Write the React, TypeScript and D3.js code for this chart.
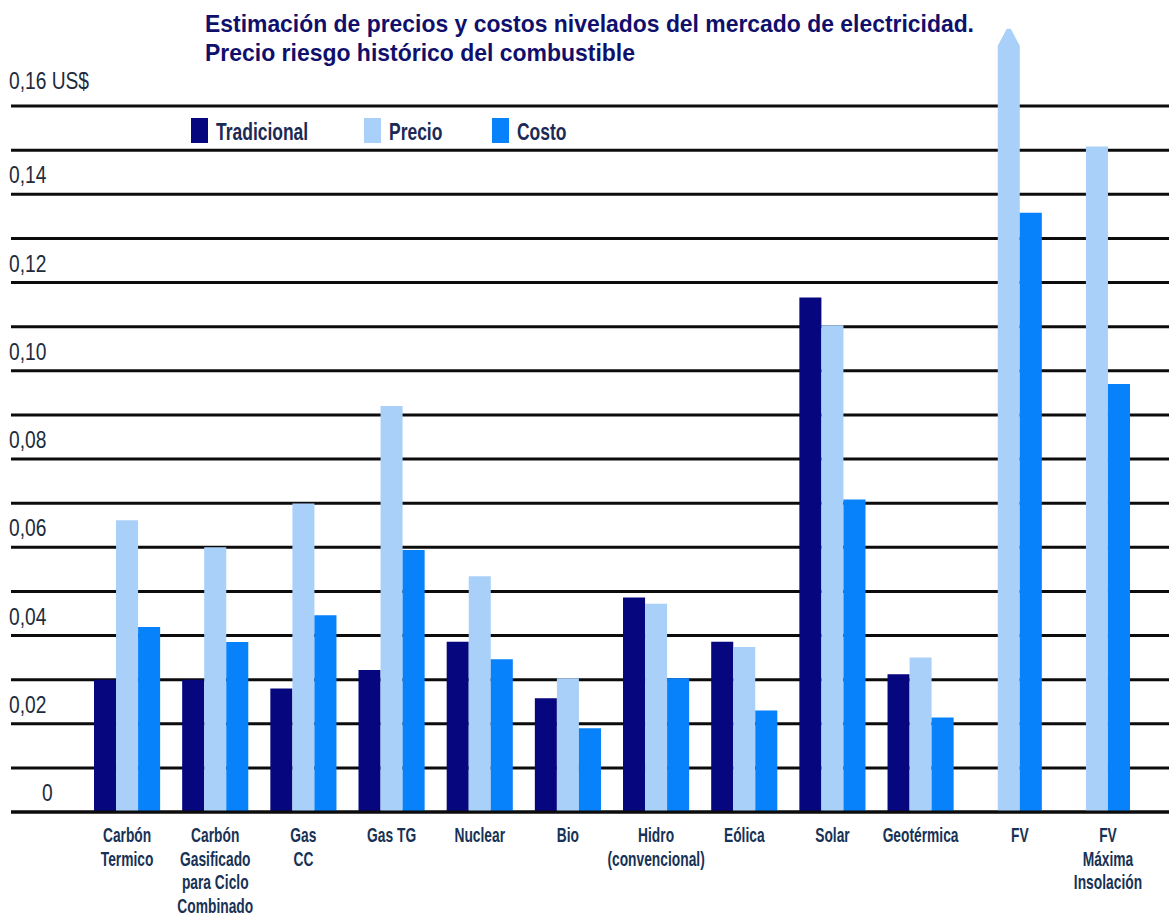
import React from 'react';
import * as d3 from 'd3';

// ---------- data ----------
const categories = [
  'Carbón\nTermico',
  'Carbón\nGasificado\npara Ciclo\nCombinado',
  'Gas\nCC',
  'Gas TG',
  'Nuclear',
  'Bio',
  'Hidro\n(convencional)',
  'Eólica',
  'Solar',
  'Geotérmica',
  'FV',
  'FV\nMáxima\nInsolación',
];
const seriesNames = ['Tradicional', 'Precio', 'Costo'];
const tradicional: (number | null)[] = [0.030, 0.030, 0.028, 0.0322, 0.0386, 0.0258, 0.0486, 0.0386, 0.1166, 0.0312, null, null];
const precio: (number | null)[] = [0.0661, 0.060, 0.0699, 0.092, 0.0534, 0.0303, 0.0472, 0.0374, 0.1103, 0.035, 0.1775, 0.1508];
const costo: (number | null)[] = [0.0419, 0.0385, 0.0446, 0.0594, 0.0346, 0.019, 0.0303, 0.023, 0.0708, 0.0214, 0.1358, 0.097];
const yTickValues = [0, 0.02, 0.04, 0.06, 0.08, 0.10, 0.12, 0.14, 0.16];
const yTickLabels = ['0', '0,02', '0,04', '0,06', '0,08', '0,10', '0,12', '0,14', '0,16 US$'];
const gridValues = [0, 0.01, 0.02, 0.03, 0.04, 0.05, 0.06, 0.07, 0.08, 0.09, 0.10, 0.11, 0.12, 0.13, 0.14, 0.15, 0.16];
const titleLines = [
  'Estimación de precios y costos nivelados del mercado de electricidad.',
  'Precio riesgo histórico del combustible',
];

// ---------- style / layout ----------
const W = 1169;
const H = 921;
const colors = ['#06067e', '#a9d0f8', '#0782fb'];
const legendX = [191, 364, 492];
const titleWidths = [769, 430];
const FONT = '"Liberation Sans", Arial, sans-serif';

export default function App() {
  const series = [tradicional, precio, costo];
  const y = d3.scaleLinear().domain([0, 0.16]).range([812, 106]);
  const x = d3
    .scaleBand<number>()
    .domain(d3.range(categories.length))
    .range([94, 1130])
    .paddingInner(0.25)
    .paddingOuter(0);
  const xi = d3
    .scaleBand<number>()
    .domain(d3.range(seriesNames.length))
    .range([0, x.bandwidth()]);
  const yMax = y.domain()[1];

  const barPath = (x0: number, x1: number, v: number) => {
    const base = y(0);
    if (v <= yMax) {
      return `M${x0},${base}V${y(v)}H${x1}V${base}Z`;
    }
    const tip = y(v);
    const shoulder = tip + 17;
    const cx = (x0 + x1) / 2;
    return `M${x0},${base}V${shoulder}L${cx - 2},${tip}H${cx + 2}L${x1},${shoulder}V${base}Z`;
  };

  return (
    <svg
      width={W}
      height={H}
      style={{ position: 'absolute', left: 0, top: 0, background: '#fff' }}
      fontFamily={FONT}
    >
      <rect x={0} y={0} width={W} height={H} fill="#fff" />
      {/* title */}
      {titleLines.map((t, i) => (
        <text
          key={i}
          x={205}
          y={32 + i * 29}
          fontSize={24}
          fontWeight="bold"
          fill="#10106c"
          textLength={titleWidths[i]}
          lengthAdjust="spacingAndGlyphs"
        >
          {t}
        </text>
      ))}

      {/* gridlines */}
      {gridValues.map((v, i) => (
        <line key={i} x1={11} x2={W} y1={y(v)} y2={y(v)} stroke="#0c0c0c" strokeWidth={3} />
      ))}

      {/* y labels */}
      {yTickValues.map((v, i) => {
        const top = i === yTickValues.length - 1;
        const tx = v === 0 ? 42 : 9;
        const ty = y(v) - (top ? 17 : 11);
        return (
          <text
            key={i}
            transform={`translate(${tx},${ty}) scale(0.8,1)`}
            fontSize={24}
            fill="#1e2b3c"
          >
            {yTickLabels[i]}
          </text>
        );
      })}

      {/* legend */}
      {seriesNames.map((s, i) => (
        <g key={s}>
          <rect x={legendX[i]} y={118} width={17} height={25} fill={colors[i]} />
          <text
            transform={`translate(${legendX[i] + 25},140) scale(0.76,1)`}
            fontSize={23}
            fontWeight="bold"
            fill="#1b2a55"
          >
            {s}
          </text>
        </g>
      ))}

      {/* bars */}
      {categories.map((c, ci) => (
        <g key={ci} transform={`translate(${x(ci)},0)`}>
          {series.map((arr, si) => {
            const v = arr[ci];
            if (v == null) return null;
            const x0 = xi(si)!;
            const x1 = x0 + xi.bandwidth();
            return <path key={si} d={barPath(x0, x1, v)} fill={colors[si]} />;
          })}
        </g>
      ))}

      {/* baseline over bars */}
      <line x1={11} x2={W} y1={y(0)} y2={y(0)} stroke="#0c0c0c" strokeWidth={3} />

      {/* x labels */}
      {categories.map((c, ci) => {
        const present = series
          .map((arr, si) => (arr[ci] == null ? null : si))
          .filter((s) => s != null) as number[];
        const x0 = x(ci)! + xi(present[0])!;
        const x1 = x(ci)! + xi(present[present.length - 1])! + xi.bandwidth();
        const cx = (x0 + x1) / 2;
        return (
          <g key={ci} transform={`translate(${cx},0)`}>
            {c.split('\n').map((line, li) => (
              <text
                key={li}
                transform={`translate(0,${842 + li * 23.5}) scale(0.69,1)`}
                textAnchor="middle"
                fontSize={20}
                fontWeight="bold"
                fill="#173255"
              >
                {line}
              </text>
            ))}
          </g>
        );
      })}
    </svg>
  );
}
